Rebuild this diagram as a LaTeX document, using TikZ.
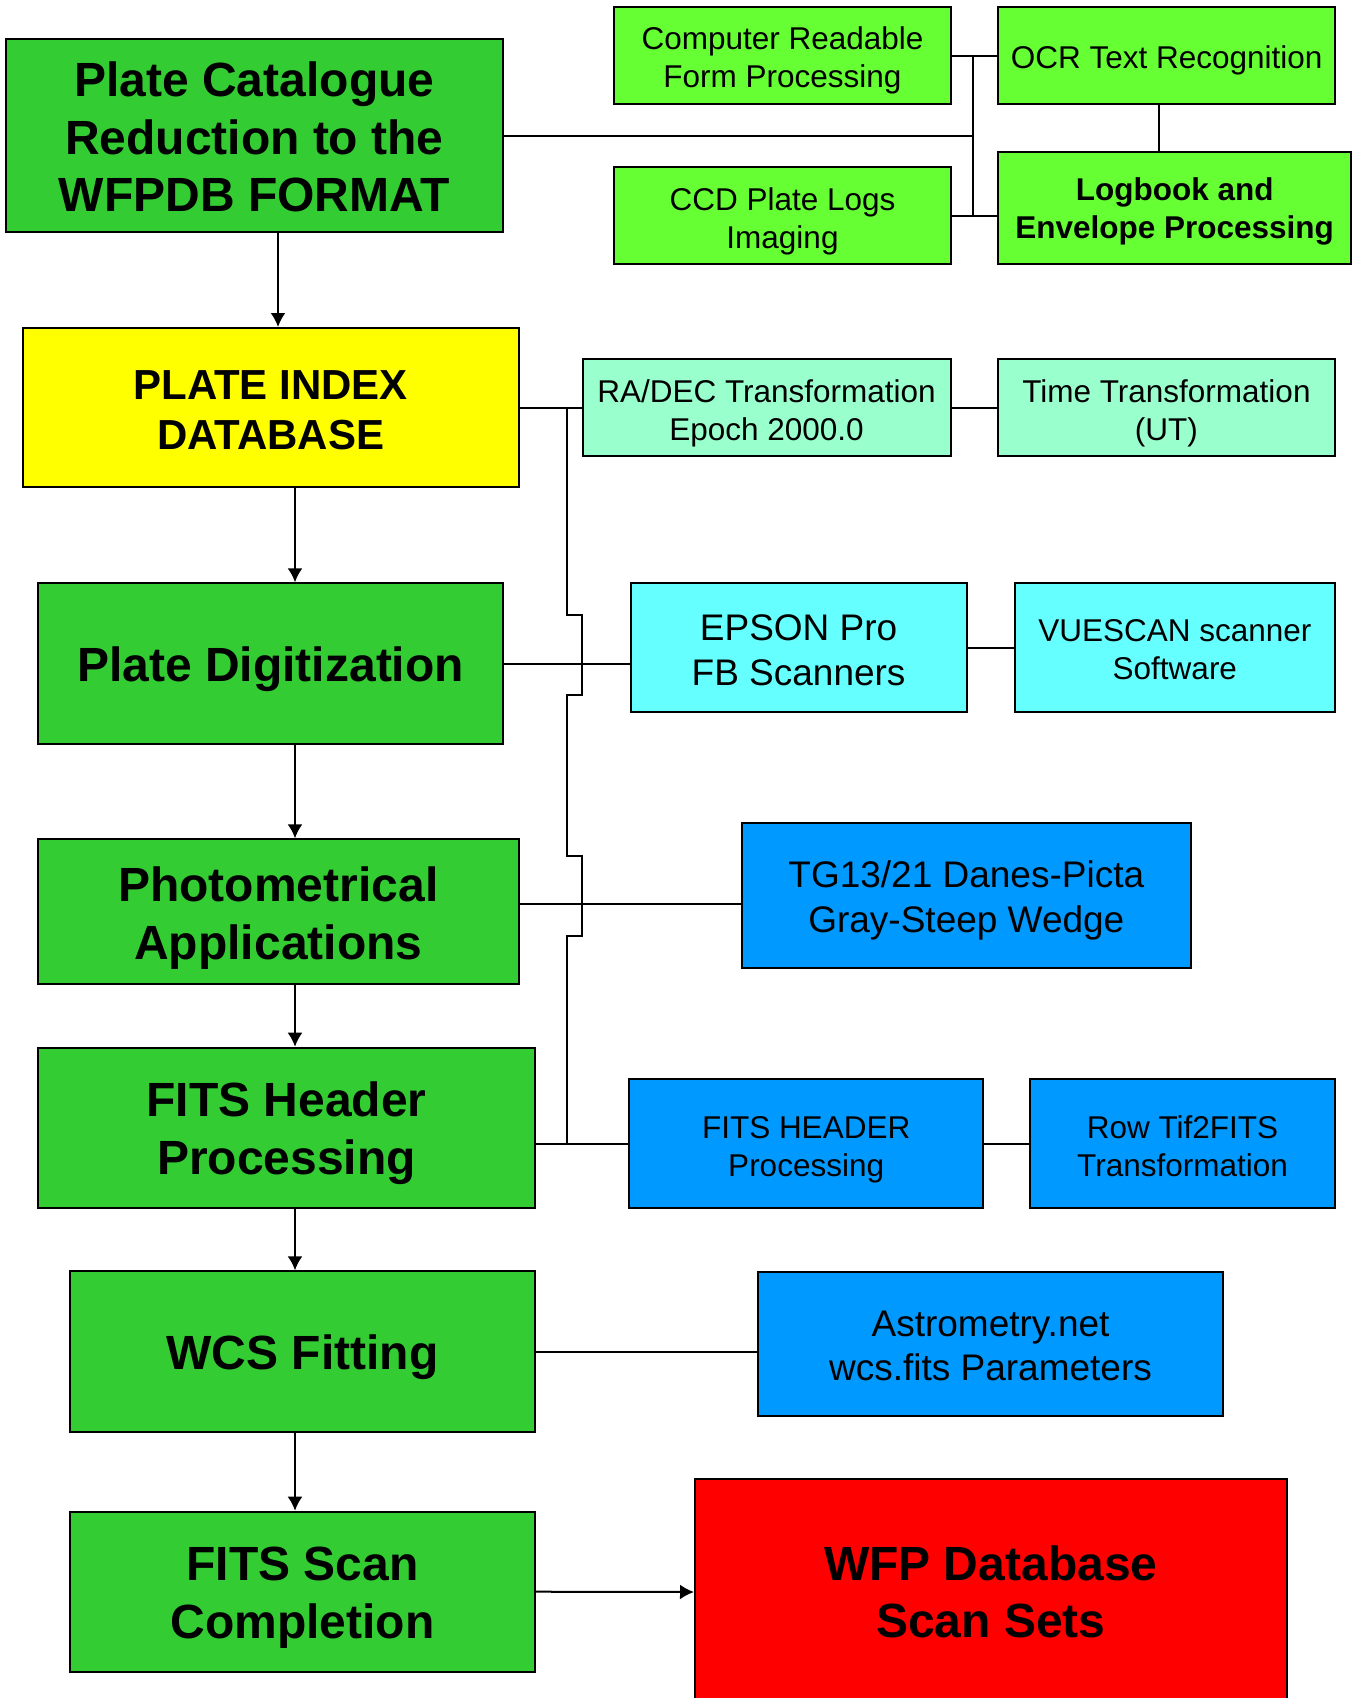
\documentclass[tikz,border=0pt]{standalone}
\usepackage{fontspec}
\setmainfont{Liberation Sans}
\usetikzlibrary{arrows.meta}

\definecolor{darkgreen}{HTML}{33CC33}
\definecolor{lightgreen}{HTML}{66FF33}
\definecolor{plateyellow}{HTML}{FFFF00}
\definecolor{mint}{HTML}{99FFCC}
\definecolor{scancyan}{HTML}{66FFFF}
\definecolor{skyblue}{HTML}{0099FF}
\definecolor{setred}{HTML}{FF0000}

% lowers a node's text by #1 pt
\newcommand{\drop}[1]{\rule{0pt}{\dimexpr0.73em+#1pt*2\relax}}

\begin{document}
\begin{tikzpicture}[x=1pt,y=-1pt,>={Latex[length=14pt,width=15pt]},
    line width=2pt,
    box/.style={draw=black, line width=2pt, inner sep=0pt, align=center},
    bigtext/.style={font=\fontsize{48}{57.5}\selectfont\bfseries},
    midtext/.style={font=\fontsize{37}{44.5}\selectfont},
    smalltext/.style={font=\fontsize{31.5}{38}\selectfont},
    flow/.style={->}]

% Page
\clip[use as bounding box] (0,0) rectangle (1359,1698);

% Main column
\node[box, bigtext, fill=darkgreen, minimum width=496.7pt, minimum height=192.4pt]
    (catalogue) at (254.35,135.5) {\drop{1.6}Plate Catalogue\\Reduction to the\\WFPDB FORMAT};
\node[box, font=\fontsize{42}{50}\selectfont\bfseries, fill=plateyellow,
    minimum width=496pt, minimum height=159.3pt]
    (index) at (270.7,407.65) {\drop{1.6}PLATE INDEX\\DATABASE};
\node[box, bigtext, fill=darkgreen, minimum width=464.7pt, minimum height=160.7pt]
    (digit) at (270.65,663.65) {\drop{5.4}Plate Digitization};
\node[box, bigtext, fill=darkgreen, minimum width=480.7pt, minimum height=144.4pt]
    (photo) at (278.35,911.5) {\drop{6.3}Photometrical\\Applications};
\node[box, bigtext, fill=darkgreen, minimum width=497pt, minimum height=160pt]
    (header) at (286.5,1127.7) {\drop{5.4}FITS Header\\Processing};
\node[box, bigtext, fill=darkgreen, minimum width=465pt, minimum height=160.4pt]
    (wcs) at (302.5,1351.5) {\drop{5.4}WCS Fitting};
\node[box, bigtext, fill=darkgreen, minimum width=465pt, minimum height=160pt]
    (scan) at (302.5,1591.7) {\drop{5.4}FITS Scan\\Completion};

% Catalogue inputs
\node[box, smalltext, fill=lightgreen, minimum width=337pt, minimum height=96.7pt]
    (compread) at (782.5,55.65) {\drop{4.3}Computer Readable\\Form Processing};
\node[box, smalltext, fill=lightgreen, minimum width=337pt, minimum height=97pt]
    (ccdlogs) at (782.5,215.5) {\drop{5.4}CCD Plate Logs\\Imaging};
\node[box, smalltext, fill=lightgreen, minimum width=336.7pt, minimum height=97pt]
    (ocr) at (1166.65,55.5) {\drop{4.3}OCR Text Recognition};
\node[box, font=\fontsize{31.5}{38}\selectfont\bfseries, fill=lightgreen,
    minimum width=352.7pt, minimum height=112pt]
    (logbook) at (1174.65,208) {\drop{3.2}Logbook and\\Envelope Processing};

% Side boxes
\node[box, smalltext, fill=mint, minimum width=368.1pt, minimum height=96.7pt]
    (radec) at (766.55,407.65) {\drop{5.4}RA/DEC Transformation\\Epoch 2000.0};
\node[box, smalltext, fill=mint, minimum width=337.2pt, minimum height=96.7pt]
    (utime) at (1166.4,407.65) {\drop{5.4}Time Transformation\\(UT)};
\node[box, midtext, fill=scancyan, minimum width=335.8pt, minimum height=128.4pt]
    (epson) at (798.6,647.5) {\drop{2.2}EPSON Pro\\FB Scanners};
\node[box, smalltext, fill=scancyan, minimum width=320.3pt, minimum height=128.4pt]
    (vuescan) at (1174.85,647.5) {\drop{1.6}VUESCAN scanner\\Software};
\node[box, midtext, fill=skyblue, minimum width=449.4pt, minimum height=144.7pt]
    (wedge) at (966.3,895.65) {\drop{4.9}TG13/21 Danes-Picta\\Gray-Steep Wedge};
\node[box, smalltext, fill=skyblue, minimum width=353.5pt, minimum height=128.4pt]
    (hdrproc) at (806.15,1143.5) {\drop{5.4}FITS HEADER\\Processing};
\node[box, smalltext, fill=skyblue, minimum width=305pt, minimum height=128.4pt]
    (tif) at (1182.5,1143.5) {\drop{2.2}Row Tif2FITS\\Transformation};
\node[box, midtext, fill=skyblue, minimum width=465.6pt, minimum height=144pt]
    (astrom) at (990.5,1343.7) {\drop{1.6}Astrometry.net\\wcs.fits Parameters};
\node[box, bigtext, fill=setred, minimum width=591.5pt, minimum height=226pt]
    (wfp) at (990.75,1592) {WFP Database\\Scan Sets};

% Guide coordinates
\coordinate (axisA) at (278,0);
\coordinate (axisB) at (295,0);
\coordinate (busR) at (973,0);
\coordinate (ocrx) at (1158.7,0);
\coordinate (busL) at (566.7,0);
\coordinate (wedgey) at (0,903.5);

% Main flow
\draw[flow] (catalogue.south -| axisA) -- (index.north -| axisA);
\foreach \a/\b in {index/digit, digit/photo, photo/header, header/wcs, wcs/scan}{
    \draw[flow] (\a.south -| axisB) -- (\b.north -| axisB);
}
\draw[flow] (scan.east) -- (wfp.west);

% Catalogue links
\draw (catalogue.east) -- (catalogue.east -| busR);
\draw (compread.east -| busR) -- (ccdlogs.east -| busR);
\draw (compread.east) -- (compread.east -| ocr.west);
\draw (ccdlogs.east) -- (ccdlogs.east -| logbook.west);
\draw (ocr.south -| ocrx) -- (logbook.north -| ocrx);

% Side links
\draw (index.east) -- (radec.west);
\draw (radec.east) -- (utime.west);
\draw (digit.east) -- (digit.east -| epson.west);
\draw (epson.east) -- (vuescan.west);
\draw (photo.east |- wedgey) -- (wedge.west |- wedgey);
\draw (hdrproc.west -| header.east) -- (hdrproc.west);
\draw (hdrproc.east) -- (tif.west);
\draw (wcs.east) -- (wcs.east -| astrom.west);

% Bus with hops
\draw (index.east -| busL) -- (566.7,615.3) -- (582.3,615.3) -- (582.3,695.3)
    -- (566.7,695.3) -- (566.7,855.7) -- (582.3,855.7) -- (582.3,935.7)
    -- (566.7,935.7) -- (hdrproc.west -| busL);

\end{tikzpicture}
\end{document}
